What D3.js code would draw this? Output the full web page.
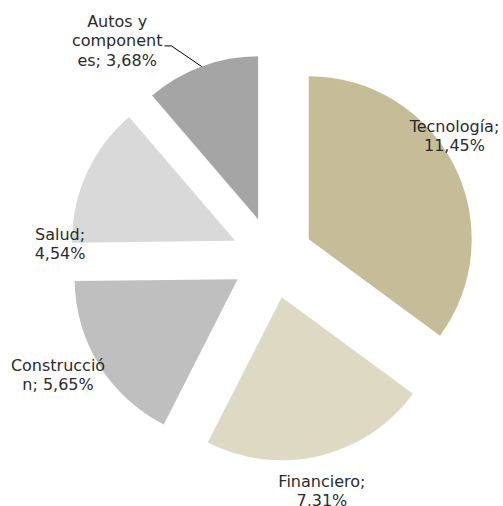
<!DOCTYPE html>
<html>
<head>
<meta charset="utf-8">
<script src="https://cdn.jsdelivr.net/npm/d3@7"></script>
<style>
	body { margin: 0; background: #ffffff; }
	.slice-label { font-family: "DejaVu Sans", sans-serif; font-size: 16px; fill: #2b2b2b; }
</style>
</head>
<body>
<svg id="pie-plot" width="503" height="506" viewBox="0 0 503 506"></svg>
<script>

// sector weights
const categories = ["Tecnología", "Financiero", "Construcción", "Salud", "Autos y componentes"];
const values = [11.45, 7.31, 5.65, 4.54, 3.68];
const colors = ["#C4BD97", "#DDD9C3", "#BFBFBF", "#D9D9D9", "#A5A5A5"];
// label text as wrapped in the original
const labelLines = [
	["Tecnología;", "11,45%"],
	["Financiero;", "7,31%"],
	["Construcció", "n; 5,65%"],
	["Salud;", "4,54%"],
	["Autos y", "component", "es; 3,68%"]
];

function whenDocumentLoaded(action) {
	if (document.readyState === "loading") {
		document.addEventListener("DOMContentLoaded", action);
	} else {
		action();
	}
}

whenDocumentLoaded(() => {
	const svg = d3.select("#pie-plot");

	const center = [272.3, 257.6];
	const radius = 163;
	const explode = 40.8;
	const lineHeight = 19.5;

	// label placement: [angle in degrees clockwise from top, distance from centre]
	const labelPolar = [[56.3, 219], [168, 238.6], [241.3, 244.3], [273.7, 212.7], [324.4, 266.5]];

	const pie = d3.pie().sort(null).value(d => d);
	const arcs = pie(values);

	const arc = d3.arc().innerRadius(0).outerRadius(radius);

	const g = svg.append("g")
		.attr("transform", "translate(" + center[0] + "," + center[1] + ")");

	const midAngle = d => (d.startAngle + d.endAngle) / 2;

	g.selectAll("path.slice")
		.data(arcs)
		.enter()
		.append("path")
			.attr("class", "slice")
			.attr("d", arc)
			.attr("transform", d => {
				const a = midAngle(d);
				return "translate(" + (Math.sin(a) * explode) + "," + (-Math.cos(a) * explode) + ")";
			})
			.style("fill", (d, i) => colors[i])
			.append("title").text((d, i) => categories[i]);

	// labels
	arcs.forEach((d, i) => {
		const a = labelPolar[i][0] * Math.PI / 180;
		const r = labelPolar[i][1];
		const cx = Math.sin(a) * r;
		const cy = -Math.cos(a) * r;
		const lines = labelLines[i];
		const y0 = cy - (lines.length - 1) * lineHeight / 2 + 5.5;

		const t = g.append("text")
			.attr("class", "slice-label")
			.attr("text-anchor", "middle");
		lines.forEach((line, j) => {
			t.append("tspan")
				.attr("x", cx)
				.attr("y", y0 + j * lineHeight)
				.text(line);
		});

		// leader line for the small top slice, from the second line's baseline
		if (i === labelLines.length - 1) {
			const m = midAngle(d);
			const ox = Math.sin(m) * explode;
			const oy = -Math.cos(m) * explode;
			const end = [ox + Math.sin(m) * radius, oy - Math.cos(m) * radius];
			const bbox = t.node().getBBox();
			const start = [bbox.x + bbox.width + 2, y0 + lineHeight - 0.5];
			g.append("path")
				.attr("d", d3.line()([start, [start[0] + 7, start[1]], end]))
				.style("fill", "none")
				.style("stroke", "#000000")
				.style("stroke-width", 1);
		}
	});
});
</script>
</body>
</html>
